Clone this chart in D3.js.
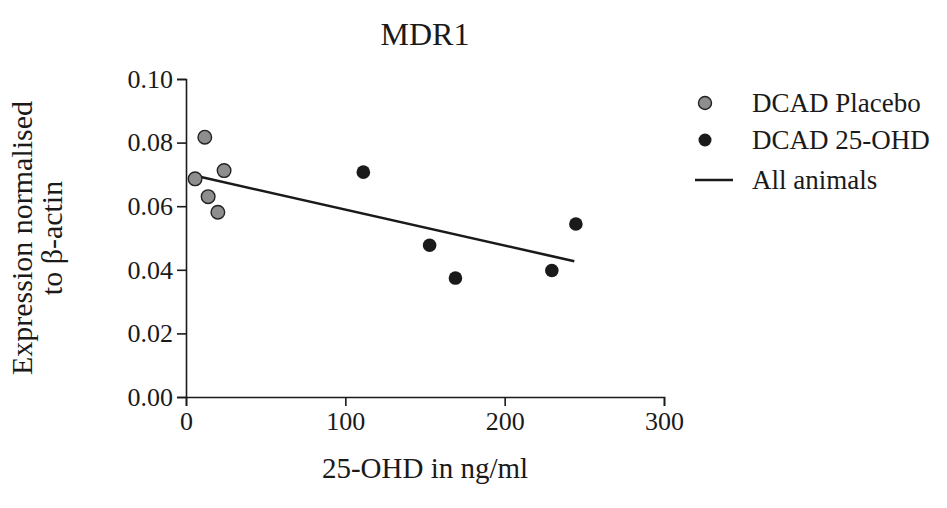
<!DOCTYPE html>
<html><head><meta charset="utf-8">
<script src="https://cdn.jsdelivr.net/npm/d3@7"></script>
<style>body{margin:0;background:#fff}svg{display:block}text{font-family:"Liberation Serif","Times New Roman",serif;fill:#1a1a1a}</style>
</head><body>
<svg id="c" width="947" height="508"></svg>
<script>
const placeboX = [5.7, 11.8, 23.9, 13.9, 20.0];
const placeboY = [0.0686, 0.0817, 0.0712, 0.0630, 0.0581];
const ohdX = [111.3, 152.9, 169.1, 229.6, 244.7];
const ohdY = [0.0707, 0.0477, 0.0374, 0.0398, 0.0544];
const fitX = [4.6, 243.7];
const fitY = [0.0697, 0.0427];
const xTicks = [0, 100, 200, 300];
const yTicks = [0, 0.02, 0.04, 0.06, 0.08, 0.10];
const legendLabels = ["DCAD Placebo", "DCAD 25-OHD", "All animals"];

const svg = d3.select("#c");
const x = d3.scaleLinear().domain([0, 300]).range([186, 664]);
const y = d3.scaleLinear().domain([0, 0.10]).range([397, 79]);

const xAxis = svg.append("g").attr("transform", "translate(0,397)")
  .call(d3.axisBottom(x).tickValues(xTicks).tickSize(9).tickPadding(6).tickFormat(d3.format("d")));
const yAxis = svg.append("g").attr("transform", "translate(186,0)")
  .call(d3.axisLeft(y).tickValues(yTicks).tickSize(9).tickPadding(4).tickFormat(d3.format(".2f")));
[xAxis, yAxis].forEach(a => {
  a.selectAll("path,line").attr("stroke", "#1a1a1a").attr("stroke-width", 1.6);
  a.selectAll("text").style("font-family", "'Liberation Serif',serif").style("font-size", "26px").attr("fill", "#1a1a1a");
});

svg.append("line")
  .attr("x1", x(fitX[0])).attr("y1", y(fitY[0]))
  .attr("x2", x(fitX[1])).attr("y2", y(fitY[1]))
  .attr("stroke", "#1a1a1a").attr("stroke-width", 2.6);

svg.append("g").selectAll("circle").data(placeboX).join("circle")
  .attr("cx", d => x(d)).attr("cy", (d, i) => y(placeboY[i])).attr("r", 6.8)
  .attr("fill", "#8e8e8e").attr("stroke", "#222").attr("stroke-width", 1.4);
svg.append("g").selectAll("circle").data(ohdX).join("circle")
  .attr("cx", d => x(d)).attr("cy", (d, i) => y(ohdY[i])).attr("r", 6.8)
  .attr("fill", "#1a1a1a");

svg.append("text").attr("x", 425).attr("y", 45).attr("text-anchor", "middle")
  .style("font-size", "32px").text("MDR1");
svg.append("text").attr("x", 425).attr("y", 478).attr("text-anchor", "middle")
  .style("font-size", "29px").text("25-OHD in ng/ml");
const yt = svg.append("text").attr("transform", "translate(32,238) rotate(-90)").attr("text-anchor", "middle").style("font-size", "30px");
yt.append("tspan").attr("x", 0).attr("dy", 0).text("Expression normalised");
yt.append("tspan").attr("x", 0).attr("dy", 30).text("to β-actin");

const lg = svg.append("g");
const rows = [103, 140, 180];
lg.append("circle").attr("cx", 705).attr("cy", rows[0]).attr("r", 6.5).attr("fill", "#8e8e8e").attr("stroke", "#222").attr("stroke-width", 1.4);
lg.append("circle").attr("cx", 705).attr("cy", rows[1]).attr("r", 6.5).attr("fill", "#1a1a1a");
lg.append("line").attr("x1", 695).attr("x2", 733).attr("y1", rows[2]).attr("y2", rows[2]).attr("stroke", "#1a1a1a").attr("stroke-width", 2.6);
lg.selectAll("text").data(legendLabels).join("text")
  .attr("x", 752).attr("y", (d, i) => rows[i] + 9).style("font-size", "27px").text(d => d);
</script>
</body></html>
